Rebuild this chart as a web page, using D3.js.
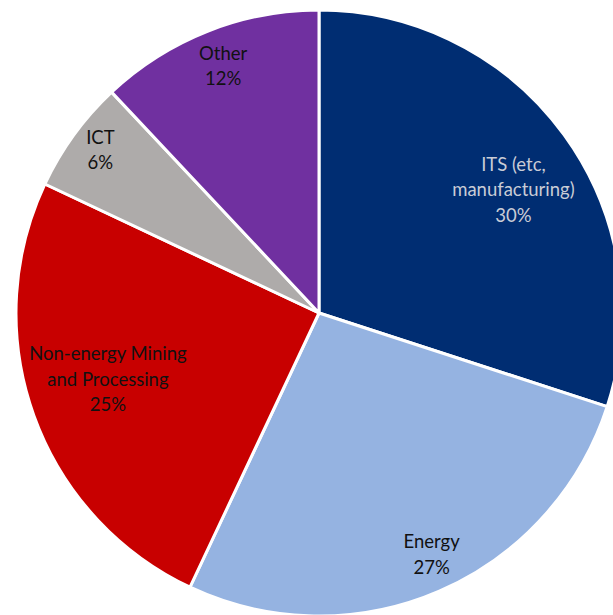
<!DOCTYPE html>
<html>
<head>
<meta charset="utf-8">
<script src="https://cdn.jsdelivr.net/npm/d3@7"></script>
<style>
  html, body { margin: 0; padding: 0; background: #ffffff; }
  svg { display: block; }
</style>
</head>
<body>
<svg id="chart" width="613" height="615"></svg>
<script>
// Sector shares (percent), drawn clockwise from 12 o'clock
const categories = ["ITS (etc, manufacturing)", "Energy", "Non-energy Mining and Processing", "ICT", "Other"];
const values = [30, 27, 25, 6, 12];
// Label text, one entry per line
const labelLines = [
  ["ITS (etc,", "manufacturing)", "30%"],
  ["Energy", "27%"],
  ["Non-energy Mining", "and Processing", "25%"],
  ["ICT", "6%"],
  ["Other", "12%"]
];
const colors = ["#002D72", "#95B3E1", "#C80000", "#AEABAA", "#7030A0"];
const labelColors = ["#C9CCD6", "#111111", "#111111", "#111111", "#111111"];
// Label anchor: distance from the centre (share of radius) and a turn (degrees) off the slice middle
const labelRadius = [0.76, 0.88, 0.73, 0.90, 0.875];
const labelTurn = [3.6, -1.6, 2.4, 0.7, 0.4];

const svg = d3.select("#chart");
const cx = 319, cy = 313, R = 303;

const pie = d3.pie().sort(null).value(d => d)(values);
const arc = d3.arc().innerRadius(0).outerRadius(R);

const g = svg.append("g").attr("transform", `translate(${cx},${cy})`);

g.selectAll("path.slice")
  .data(pie)
  .join("path")
  .attr("class", "slice")
  .attr("d", arc)
  .attr("fill", (d, i) => colors[i])
  .attr("stroke", "#ffffff")
  .attr("stroke-width", 3)
  .attr("stroke-linejoin", "round");

const lineH = 25.5;
g.selectAll("text.label")
  .data(pie)
  .join("text")
  .attr("class", "label")
  .attr("font-family", "Lato, 'Open Sans', sans-serif")
  .attr("font-size", 18.5)
  .attr("text-anchor", "middle")
  .attr("fill", (d, i) => labelColors[i])
  .each(function(d, i) {
    const r = R * labelRadius[i];
    const a = (d.startAngle + d.endAngle) / 2 + labelTurn[i] * Math.PI / 180;
    const c = [r * Math.sin(a), -r * Math.cos(a)];
    const lines = labelLines[i];
    const top = c[1] - (lines.length - 1) * lineH / 2;
    d3.select(this).selectAll("tspan")
      .data(lines)
      .join("tspan")
      .attr("x", c[0])
      .attr("y", (t, k) => top + k * lineH)
      .attr("dy", "0.35em")
      .text(t => t);
  });
</script>
</body>
</html>
